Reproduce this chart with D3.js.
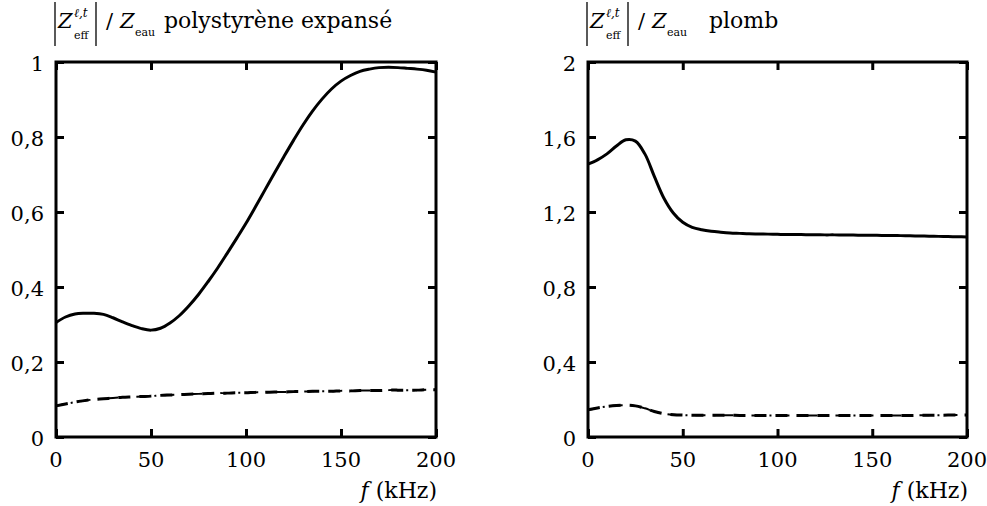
<!DOCTYPE html>
<html>
<head>
<meta charset="utf-8">
<script src="https://cdn.jsdelivr.net/npm/d3@7"></script>
<style>
  body { margin: 0; background: #fff; }
  svg text { font-family: "DejaVu Serif", "Liberation Serif", serif; fill: #000; }
</style>
</head>
<body>
<div id="vis"></div>
<script>
// frequencies (kHz)
var freq = [0, 5, 10, 15, 20, 25, 30, 35, 40, 45, 50, 55, 60, 65, 70, 75, 80, 85, 90, 95, 100,
            105, 110, 115, 120, 125, 130, 135, 140, 145, 150, 155, 160, 165, 170, 175, 180, 185, 190, 195, 200];

// polystyrène expansé
var polySolid = [0.305, 0.320, 0.328, 0.330, 0.330, 0.327, 0.318, 0.307, 0.297, 0.289, 0.285, 0.290, 0.304, 0.324, 0.350, 0.380, 0.414, 0.450, 0.489, 0.529, 0.570,
                 0.614, 0.659, 0.704, 0.748, 0.791, 0.832, 0.869, 0.901, 0.928, 0.949, 0.964, 0.975, 0.981, 0.985, 0.986, 0.985, 0.983, 0.981, 0.978, 0.973];
var polyDash = [0.083, 0.088, 0.093, 0.097, 0.100, 0.102, 0.104, 0.106, 0.107, 0.108, 0.109, 0.111, 0.112, 0.113, 0.114, 0.115, 0.116, 0.117, 0.117, 0.118, 0.118,
                0.119, 0.119, 0.120, 0.120, 0.121, 0.121, 0.122, 0.122, 0.122, 0.123, 0.123, 0.124, 0.124, 0.124, 0.125, 0.125, 0.125, 0.125, 0.126, 0.126];

// plomb
var plombSolid = [1.455, 1.478, 1.510, 1.552, 1.585, 1.578, 1.510, 1.390, 1.275, 1.195, 1.145, 1.118, 1.105, 1.097, 1.092, 1.088, 1.086, 1.084, 1.083, 1.082, 1.081,
                  1.080, 1.080, 1.079, 1.079, 1.078, 1.078, 1.077, 1.077, 1.076, 1.076, 1.075, 1.075, 1.074, 1.073, 1.072, 1.071, 1.070, 1.069, 1.068, 1.067];
var plombDash = [0.145, 0.155, 0.163, 0.168, 0.170, 0.166, 0.153, 0.136, 0.124, 0.119, 0.117, 0.116, 0.116, 0.116, 0.116, 0.116, 0.115, 0.115, 0.115, 0.115, 0.115,
                 0.115, 0.115, 0.115, 0.115, 0.115, 0.115, 0.115, 0.115, 0.115, 0.115, 0.115, 0.115, 0.115, 0.115, 0.116, 0.116, 0.116, 0.117, 0.117, 0.117];

var xTicks = [0, 50, 100, 150, 200];
var polyTicks = [0, 0.2, 0.4, 0.6, 0.8, 1];
var plombTicks = [0, 0.4, 0.8, 1.2, 1.6, 2];

var width = 987, height = 506;
var yTop = 62, yBottom = 437;

var panels = [
    { x0: 56, x1: 436, yMax: 1, ticks: polyTicks, solid: polySolid, dash: polyDash,
      name: 'polystyrène expansé', nameDx: 109 },
    { x0: 588, x1: 967, yMax: 2, ticks: plombTicks, solid: plombSolid, dash: plombDash,
      name: 'plomb', nameDx: 122 }
];

var fmt = (v) => String(v).replace('.', ',');

var svg = d3.select('#vis')
            .append('svg')
            .attr('width', width)
            .attr('height', height);

panels.forEach(function(p) {
    var xScale = d3.scaleLinear().domain([0, 200]).range([p.x0, p.x1]);
    var yScale = d3.scaleLinear().domain([0, p.yMax]).range([yBottom, yTop]);
    var g = svg.append('g');

    var line = (vals) => d3.line()
        .x((d, i) => xScale(freq[i]))
        .y((d) => yScale(d))
        .curve(d3.curveCatmullRom)(vals);

    // curves
    g.append('path').attr('d', line(p.dash))
     .attr('fill', 'none').attr('stroke', '#000').attr('stroke-width', 3)
     .attr('stroke-dasharray', '12,9');
    g.append('path').attr('d', line(p.dash))
     .attr('fill', 'none').attr('stroke', '#000').attr('stroke-width', 2)
     .attr('stroke-dasharray', '10,8,2,8').attr('stroke-dashoffset', 3);
    g.append('path').attr('d', line(p.solid))
     .attr('fill', 'none').attr('stroke', '#000').attr('stroke-width', 3);

    // axes: inward ticks, mirrored
    var tl = 8;
    g.append('g').attr('transform', `translate(0,${yBottom})`)
     .call(d3.axisBottom(xScale).tickValues(xTicks).tickSize(-tl).tickFormat(''));
    g.append('g').attr('transform', `translate(0,${yTop})`)
     .call(d3.axisTop(xScale).tickValues(xTicks).tickSize(-tl).tickFormat(''));
    g.append('g').attr('transform', `translate(${p.x0},0)`)
     .call(d3.axisLeft(yScale).tickValues(p.ticks).tickSize(-tl).tickFormat(''));
    g.append('g').attr('transform', `translate(${p.x1},0)`)
     .call(d3.axisRight(yScale).tickValues(p.ticks).tickSize(-tl).tickFormat(''));
    g.selectAll('.domain').remove();
    g.selectAll('.tick line').attr('stroke', '#000').attr('stroke-width', 3);

    g.append('rect')
     .attr('x', p.x0).attr('y', yTop)
     .attr('width', p.x1 - p.x0).attr('height', yBottom - yTop)
     .attr('fill', 'none').attr('stroke', '#000').attr('stroke-width', 3);

    // tick labels
    g.selectAll('.xl').data(xTicks).enter().append('text')
     .attr('x', (d) => xScale(d)).attr('y', 467)
     .attr('text-anchor', 'middle').style('font-size', '21px')
     .text((d) => d);
    g.selectAll('.yl').data(p.ticks).enter().append('text')
     .attr('x', p.x0 - 12).attr('y', (d) => yScale(d) + 9)
     .attr('text-anchor', 'end').style('font-size', '21px')
     .text((d) => fmt(d));

    // x label
    var xl = g.append('text').attr('x', p.x1 + 1).attr('y', 498)
              .attr('text-anchor', 'end').style('font-size', '22px');
    xl.append('tspan').style('font-style', 'italic').text('f');
    xl.append('tspan').text(' (kHz)');

    // y label: |Z_eff^{l,t}| / Z_eau name
    var bx = p.x0 - 1;
    g.append('line').attr('x1', bx).attr('x2', bx).attr('y1', 2).attr('y2', 46)
     .attr('stroke', '#000').attr('stroke-width', 1.3);
    g.append('line').attr('x1', bx + 41).attr('x2', bx + 41).attr('y1', 2).attr('y2', 46)
     .attr('stroke', '#000').attr('stroke-width', 1.3);
    g.append('text').attr('x', bx + 3).attr('y', 28)
     .style('font-size', '21px').style('font-style', 'italic').text('Z');
    g.append('text').attr('x', bx + 19).attr('y', 17)
     .style('font-size', '12px').style('font-style', 'italic').text('ℓ,t');
    g.append('text').attr('x', bx + 19).attr('y', 39)
     .style('font-size', '11px').text('eff');
    g.append('text').attr('x', bx + 51).attr('y', 28)
     .style('font-size', '21px').text('/');
    g.append('text').attr('x', bx + 65).attr('y', 28)
     .style('font-size', '21px').style('font-style', 'italic').text('Z');
    g.append('text').attr('x', bx + 80).attr('y', 36)
     .style('font-size', '11px').text('eau');
    g.append('text').attr('x', bx + p.nameDx).attr('y', 28)
     .style('font-size', '22px').text(p.name);
});
</script>
</body>
</html>
